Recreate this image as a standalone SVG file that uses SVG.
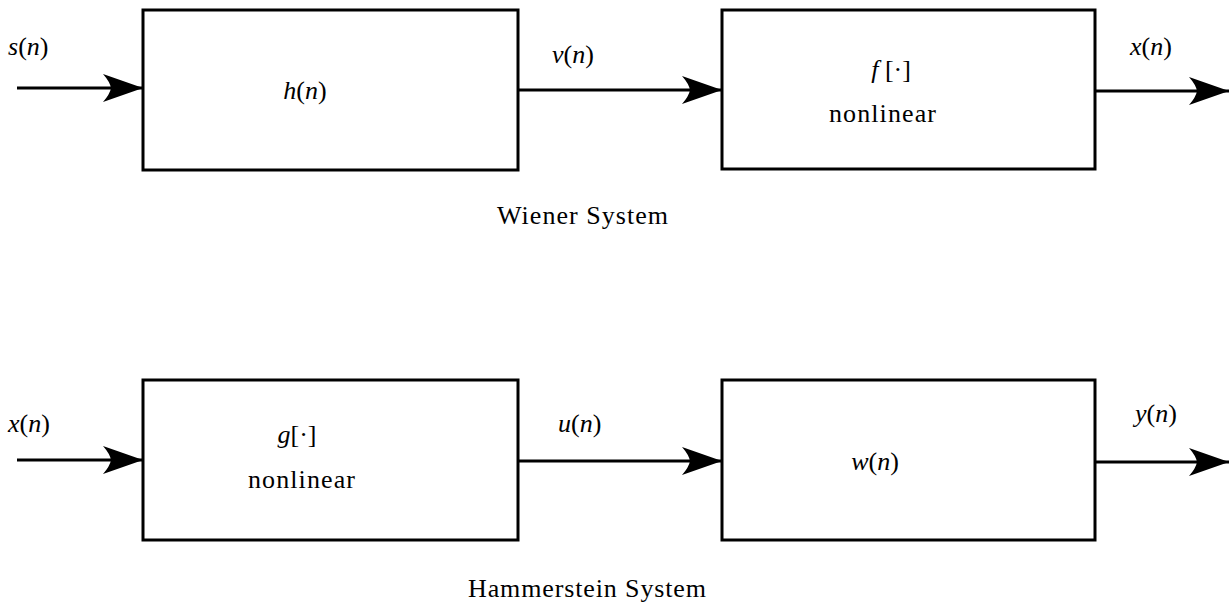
<svg xmlns="http://www.w3.org/2000/svg" width="1229" height="608" viewBox="0 0 1229 608">
<style>
.box{fill:#fff;stroke:#000;stroke-width:3}
.ln{stroke:#000;stroke-width:3;fill:none;marker-end:url(#ah)}
.m{font-family:"Liberation Serif",serif;font-size:26px;fill:#000}
.i{font-style:italic}
.t{font-family:"Liberation Serif",serif;font-size:26px;fill:#000}
</style>
<defs>
<marker id="ah" markerUnits="userSpaceOnUse" viewBox="0 -15 41 30" refX="40" refY="0" markerWidth="41" markerHeight="30" orient="auto" overflow="visible">
<path d="M0,-14 L40,0 L0,14 Q7,6 8,0 Q7,-6 0,-14 Z" fill="#000"/>
</marker>
</defs>
<g id="connectors">
<line class="ln" x1="17" y1="88" x2="143" y2="88"/>
<line class="ln" x1="518" y1="90" x2="722" y2="90"/>
<line class="ln" x1="1095" y1="91" x2="1229" y2="91"/>
<line class="ln" x1="17" y1="460" x2="143" y2="460"/>
<line class="ln" x1="518" y1="461" x2="722" y2="461"/>
<line class="ln" x1="1095" y1="462" x2="1229" y2="462"/>
</g>
<g id="labels">
<text class="m" x="8" y="55"><tspan class="i">s</tspan>(<tspan class="i">n</tspan>)</text>
<text class="m" x="552" y="63"><tspan class="i">v</tspan>(<tspan class="i">n</tspan>)</text>
<text class="m" x="1130" y="55"><tspan class="i">x</tspan>(<tspan class="i">n</tspan>)</text>
<text class="m" x="8" y="432"><tspan class="i">x</tspan>(<tspan class="i">n</tspan>)</text>
<text class="m" x="558" y="432"><tspan class="i">u</tspan>(<tspan class="i">n</tspan>)</text>
<text class="m" x="1135" y="422"><tspan class="i">y</tspan>(<tspan class="i">n</tspan>)</text>
</g>
<g id="h">
<rect class="box" x="143" y="10" width="375" height="160"/>
<text class="m" x="305" y="99" text-anchor="middle"><tspan class="i">h</tspan>(<tspan class="i">n</tspan>)</text>
</g>
<g id="f">
<rect class="box" x="722" y="10" width="373" height="159"/>
<text class="m" x="891" y="78" text-anchor="middle"><tspan class="i">f</tspan> [·]</text>
<text class="t" x="829" y="122" textLength="107">nonlinear</text>
</g>
<g id="g">
<rect class="box" x="143" y="380" width="375" height="160"/>
<text class="m" x="297" y="443" text-anchor="middle"><tspan class="i">g</tspan>[·]</text>
<text class="t" x="248" y="488" textLength="107">nonlinear</text>
</g>
<g id="w">
<rect class="box" x="722" y="380" width="373" height="160"/>
<text class="m" x="875" y="470" text-anchor="middle"><tspan class="i">w</tspan>(<tspan class="i">n</tspan>)</text>
</g>
<g id="captions">
<text class="t" x="497" y="224" textLength="171">Wiener System</text>
<text class="t" x="468" y="597" textLength="238">Hammerstein System</text>
</g>
</svg>
